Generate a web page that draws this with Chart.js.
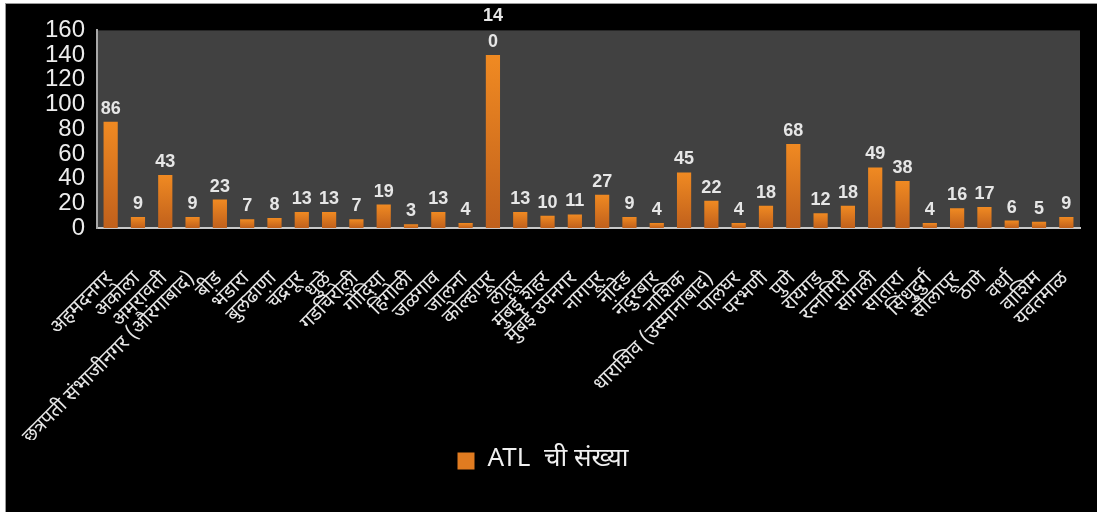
<!DOCTYPE html>
<html lang="mr">
<head>
  <meta charset="UTF-8" />
  <title>ATL ची संख्या</title>
  <script src="https://cdn.jsdelivr.net/npm/chart.js"></script>
  <style>
    html, body { margin: 0; padding: 0; background: #ffffff; }
    #box {
      position: absolute;
      left: 5px; top: 3px;
      width: 1092px; height: 509px;
      background: #000;
      border-top: 1px solid #9a9a9a;
      border-left: 1px solid #9a9a9a;
    }
    canvas { display: block; }
  </style>
</head>
<body>
  <div id="box"><canvas id="grafico" width="1091" height="508"></canvas></div>

  <script>
    // जिल्हे (categories)
    const jilhe = [
      'अहमदनगर', 'अकोला', 'अमरावती', 'छत्रपती संभाजीनगर (औरंगाबाद)', 'बीड', 'भंडारा',
      'बुलढाणा', 'चंद्रपूर', 'धुळे', 'गडचिरोली', 'गोंदिया', 'हिंगोली', 'जळगाव', 'जालना',
      'कोल्हापूर', 'लातूर', 'मुंबई शहर', 'मुंबई उपनगर', 'नागपूर', 'नांदेड', 'नंदुरबार',
      'नाशिक', 'धाराशिव (उस्मानाबाद)', 'पालघर', 'परभणी', 'पुणे', 'रायगड', 'रत्नागिरी',
      'सांगली', 'सातारा', 'सिंधुदुर्ग', 'सोलापूर', 'ठाणे', 'वर्धा', 'वाशिम', 'यवतमाळ'
    ];
    // ATL ची संख्या
    const atlSankhya = [
      86, 9, 43, 9, 23, 7, 8, 13, 13, 7, 19, 3, 13, 4, 140, 13, 10, 11,
      27, 9, 4, 45, 22, 4, 18, 68, 12, 18, 49, 38, 4, 16, 17, 6, 5, 9
    ];
    const yMax = 160;
    const yStep = 20;

    const fontMr = "'Noto Sans Devanagari', 'Noto Sans', 'Liberation Sans', sans-serif";

    // plot area background
    const plotBg = {
      id: 'plotBg',
      beforeDraw(chart) {
        const { ctx, chartArea: a } = chart;
        ctx.save();
        ctx.fillStyle = '#414141';
        ctx.fillRect(a.left, a.top, a.right - a.left, a.bottom - a.top);
        ctx.restore();
      }
    };

    // value labels above the bars (wrap like Excel when too wide)
    const valueLabels = {
      id: 'valueLabels',
      afterDatasetsDraw(chart) {
        const { ctx } = chart;
        const meta = chart.getDatasetMeta(0);
        const slot = chart.scales.x.width / jilhe.length;
        ctx.save();
        ctx.font = 'bold 18px "Liberation Sans", Arial, sans-serif';
        ctx.fillStyle = '#e6e6e6';
        ctx.textAlign = 'center';
        ctx.textBaseline = 'bottom';
        meta.data.forEach((bar, i) => {
          const txt = String(atlSankhya[i]);
          const y = bar.y - 4;
          if (ctx.measureText(txt).width > slot) {
            ctx.fillText(txt.slice(-1), bar.x, y);
            ctx.fillText(txt.slice(0, -1), bar.x, y - 26);
          } else {
            ctx.fillText(txt, bar.x, y);
          }
        });
        ctx.restore();
      }
    };

    function barGradient(context) {
      const chart = context.chart;
      if (!chart.chartArea || context.parsed === undefined) return '#e07b20';
      const ys = chart.scales.y;
      const top = ys.getPixelForValue(context.parsed.y);
      const bottom = ys.getPixelForValue(0);
      if (!isFinite(top) || top === bottom) return '#e07b20';
      const g = chart.ctx.createLinearGradient(0, top, 0, bottom);
      g.addColorStop(0, '#f08a22');
      g.addColorStop(1, '#c0601c');
      return g;
    }

    new Chart(document.getElementById('grafico'), {
      type: 'bar',
      data: {
        labels: jilhe,
        datasets: [{
          label: 'ATL  ची संख्या',
          data: atlSankhya,
          backgroundColor: barGradient,
          barPercentage: 0.52,
          categoryPercentage: 1.0
        }]
      },
      options: {
        responsive: false,
        animation: false,
        layout: { padding: { left: 0, right: 17, top: 24, bottom: 28 } },
        scales: {
          x: {
            grid: { display: false, drawTicks: false },
            border: { display: true, color: '#c8c8c8', width: 2 },
            ticks: {
              color: '#e6e6e6',
              font: { family: fontMr, size: 20 },
              minRotation: 45,
              maxRotation: 45,
              autoSkip: false,
              padding: 40
            },
            afterFit(scale) {
              scale.height = 212;
              scale.paddingLeft = 0;
              scale.paddingRight = 0;
            }
          },
          y: {
            min: 0,
            max: yMax,
            grid: { display: false, drawTicks: false },
            border: { display: true, color: '#a8a8a8', width: 2 },
            ticks: {
              stepSize: yStep,
              autoSkip: false,
              color: '#ececec',
              font: { family: "'Liberation Sans', Arial, sans-serif", size: 24 },
              padding: 12
            },
            afterFit(scale) { scale.width = 91; }
          }
        },
        plugins: {
          legend: {
            position: 'bottom',
            labels: {
              color: '#f0f0f0',
              font: { family: fontMr, size: 26 },
              boxWidth: 17,
              boxHeight: 17,
              padding: 8,
              generateLabels(chart) {
                return [{
                  text: chart.data.datasets[0].label,
                  fillStyle: '#e07b20',
                  strokeStyle: '#e07b20',
                  lineWidth: 0,
                  fontColor: '#f0f0f0',
                  datasetIndex: 0
                }];
              }
            }
          },
          tooltip: { enabled: false }
        }
      },
      plugins: [plotBg, valueLabels]
    });
  </script>
</body>
</html>
